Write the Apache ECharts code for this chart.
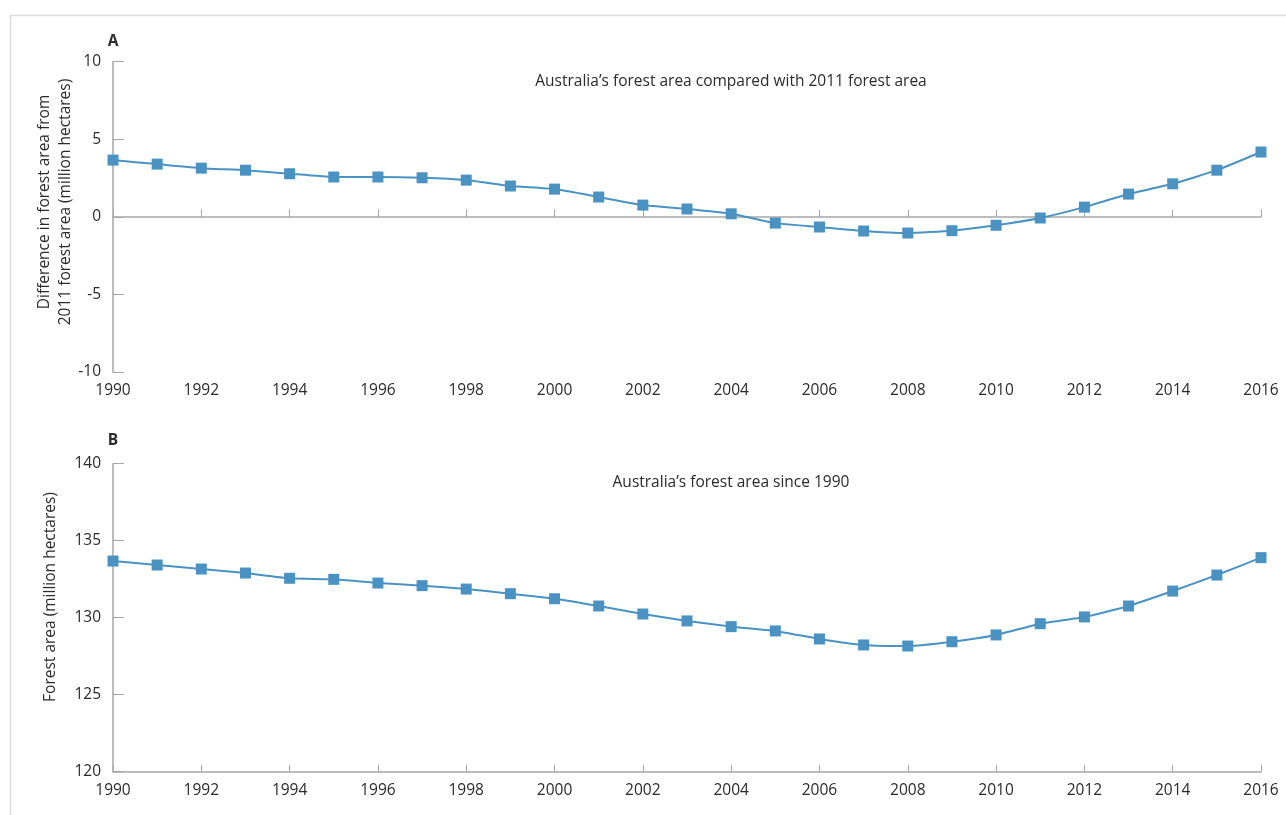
<!DOCTYPE html>
<html>
<head>
<meta charset="utf-8">
<script src="https://cdn.jsdelivr.net/npm/echarts@6/dist/echarts.min.js"></script>
<style>html,body{margin:0;padding:0;background:#fff}#c{width:1286px;height:815px}</style>
</head>
<body>
<div id="c"></div>
<script>
const years = [1990,1991,1992,1993,1994,1995,1996,1997,1998,1999,2000,2001,2002,2003,2004,2005,2006,2007,2008,2009,2010,2011,2012,2013,2014,2015,2016];
const diffFrom2011 = [3.65,3.39,3.13,3.0,2.77,2.56,2.56,2.51,2.36,1.98,1.78,1.27,0.75,0.50,0.19,-0.41,-0.66,-0.92,-1.05,-0.90,-0.55,-0.08,0.62,1.46,2.12,3.0,4.17];
const forestArea = [133.68,133.42,133.16,132.90,132.56,132.49,132.25,132.08,131.86,131.56,131.23,130.76,130.24,129.79,129.42,129.14,128.62,128.23,128.16,128.44,128.88,129.61,130.05,130.76,131.73,132.77,133.90];
const titleA = "Australia\u2019s forest area compared with 2011 forest area";
const titleB = "Australia\u2019s forest area since 1990";
const yNameA = ["Difference in forest area from", "2011 forest area (million hectares)"];
const yNameB = "Forest area (million hectares)";

const FONT = "Open Sans";
const TXT = "#2b2b2b";
const AX = "#a6a6a6";
const BLUE = "#4a92c2";

const chart = echarts.init(document.getElementById('c'));
const pairs = v => years.map((y,i)=>[y, v[i]]);
const xLabel = {fontFamily: FONT, fontSize: 15.5, color: TXT};
const seriesStyle = {
  type: 'line', symbol: 'rect', symbolSize: 11, smooth: 0.15,
  lineStyle: {color: BLUE, width: 2}, itemStyle: {color: BLUE}, animation: false
};
const textG = (x, y, text, font, rot) => ({type:'text', x, y, rotation: rot||0, silent:true,
  style: {text, fill: TXT, font: font, textAlign:'center', textVerticalAlign:'middle'}});
const F = (s, b) => (b ? 'bold ' : '') + s + 'px "' + FONT + '"';

chart.setOption({
  animation: false,
  grid: [
    {left: 113, right: 25, top: 61.5, height: 310.5},
    {left: 113, right: 25, top: 463.7, height: 308}
  ],
  xAxis: [
    {gridIndex:0, type:'value', min:1990, max:2016, interval:2,
     axisLine:{onZero:true, lineStyle:{color:AX, width:1.5}},
     axisTick:{inside:true, length:7, lineStyle:{color:AX}}, axisLabel:{show:false}, splitLine:{show:false}},
    {gridIndex:0, type:'value', min:1990, max:2016, interval:2, position:'bottom',
     axisLine:{show:false, onZero:false}, axisTick:{show:false},
     axisLabel:Object.assign({margin:11, formatter: v=>String(v)}, xLabel), splitLine:{show:false}},
    {gridIndex:1, type:'value', min:1990, max:2016, interval:2, position:'bottom',
     axisLine:{onZero:false, lineStyle:{color:AX, width:1.5}},
     axisTick:{inside:true, length:7, lineStyle:{color:AX}},
     axisLabel:Object.assign({margin:11, formatter: v=>String(v)}, xLabel), splitLine:{show:false}}
  ],
  yAxis: [
    {gridIndex:0, type:'value', min:-10, max:10, interval:5,
     axisLine:{show:true, lineStyle:{color:AX, width:1.5}},
     axisTick:{show:true, inside:true, length:11, lineStyle:{color:AX}},
     axisLabel:Object.assign({margin:12}, xLabel), splitLine:{show:false}},
    {gridIndex:1, type:'value', min:120, max:140, interval:5,
     axisLine:{show:true, lineStyle:{color:AX, width:1.5}},
     axisTick:{show:true, inside:true, length:11, lineStyle:{color:AX}},
     axisLabel:Object.assign({margin:12}, xLabel), splitLine:{show:false}}
  ],
  series: [
    Object.assign({xAxisIndex:0, yAxisIndex:0, data: pairs(diffFrom2011)}, seriesStyle),
    Object.assign({xAxisIndex:2, yAxisIndex:1, data: pairs(forestArea)}, seriesStyle)
  ],
  graphic: [
    {type:'rect', silent:true, shape:{x:10.5, y:15.5, width:1400, height:1000}, style:{fill:'none', stroke:'#dcdcdc', lineWidth:1.5}},
    textG(113, 42, 'A', F(15.5, true)),
    textG(113, 441, 'B', F(15.5, true)),
    textG(731, 82, titleA, F(15.5)),
    textG(731, 483, titleB, F(15.5)),
    textG(45, 202, yNameA[0], F(15.5), Math.PI/2),
    textG(66, 202, yNameA[1], F(15.5), Math.PI/2),
    textG(51, 597, yNameB, F(15.5), Math.PI/2)
  ]
});
</script>
</body>
</html>
